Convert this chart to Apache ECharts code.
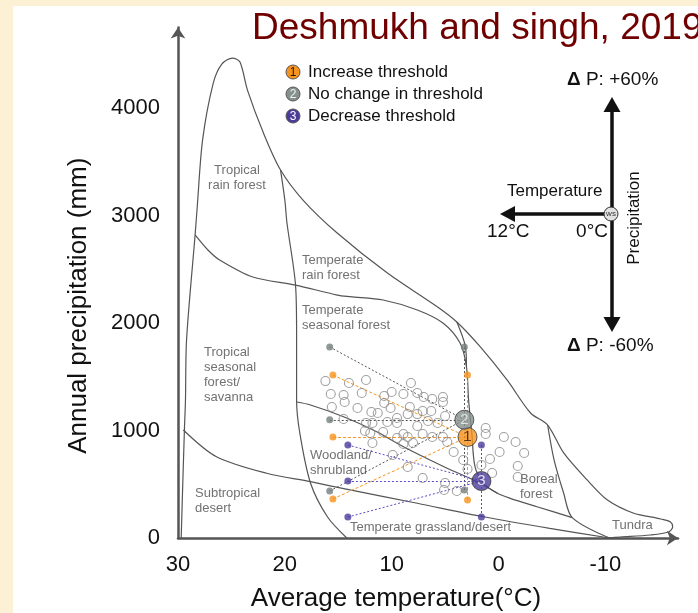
<!DOCTYPE html>
<html>
<head>
<meta charset="utf-8">
<script src="https://cdn.jsdelivr.net/npm/echarts@6/dist/echarts.min.js"></script>
<style>
  html, body { margin: 0; padding: 0; background: #fcf1d4; }
  #panel { position: absolute; left: 13px; top: 6px; width: 685px; height: 607px; background: #fff; }
  #chart { position: absolute; left: 0; top: 0; width: 698px; height: 613px; }
</style>
</head>
<body>
<div id="panel"></div>
<div id="chart"></div>
<script>
// axis ticks
const xTicks = [30, 20, 10, 0, -10];
const yTicks = [0, 1000, 2000, 3000, 4000];

// biome boundaries, [temperature °C, precipitation mm]
const outerEnvelope = [[29.7,0],[29.6,350],[29.4,1005],[29.3,1284],[29.2,1842],[28.4,2819],[28.2,3079],[27.7,3702],[26.7,4232],[25.9,4409],[24.9,4465],[24.2,4428],[23.5,4167],[22.0,3767],[20.4,3423],[18.3,3144],[15.1,2837],[10.4,2465],[5.7,2149],[3.9,2009],[1.7,1777],[-0.8,1470],[-3.0,1163],[-4.6,1051],[-6.1,791],[-8.3,540],[-10.2,353],[-12.6,233],[-15.2,177],[-16.1,149],[-16.3,102],[-15.9,56],[-14.2,28],[-11.4,9],[-10.2,0]];
const tropicalTemperateDivide = [[20.4,3423],[20.0,3144],[19.8,2930],[19.0,2353],[18.9,1907],[18.9,1284],[18.6,977],[17.6,512],[16.0,195],[14.2,0]];
const rainForestEdge = [[28.4,2819],[27.2,2679],[26.1,2586],[23.0,2428],[19.0,2353],[15.1,2260],[13.9,2245],[10.8,2214],[7.6,2121],[5.2,2000],[3.6,1814],[3.0,1593],[2.8,1284],[2.5,974],[2.2,663],[1.4,509],[0.1,416],[-1.1,369],[-3.6,291],[-6.9,190]];
const borealNotch = [[3.9,2009],[3.1,1780],[3.0,1593]];
const desertEdge = [[29.5,1005],[26.4,756],[21.7,602],[17.6,524],[13.9,447],[7.6,323],[1.4,198],[-4.8,90],[-10.4,0]];
const woodlandEdge = [[18.9,1265],[17.6,1237],[14.5,1128],[11.4,989],[8.9,849],[5.1,663],[2.0,524],[0.1,416]];
const tundraEdge = [[-4.6,1051],[-5.2,726],[-6.1,416],[-6.9,190],[-10.4,0]];

// study sites (open circles)
const sites = [
  [16.2,1460],[14.0,1442],[12.4,1470],[8.2,1442],
  [15.7,1340],[14.5,1330],[14.4,1265],[12.8,1349],[10.7,1321],[10.0,1358],[8.9,1340],[7.6,1349],
  [15.6,1219],[13.2,1209],[10.7,1256],[10.1,1209],[8.3,1219],[11.9,1172],[11.3,1163],[8.5,1153],[7.6,1153],
  [14.5,1107],[12.4,1070],[11.8,1070],[10.4,1079],[9.5,1116],[9.5,1070],[7.6,1042],
  [12.5,995],[12.0,977],[10.8,986],[8.9,967],[9.5,930],[8.5,940],[11.8,884],[8.9,874],[8.0,884],
  [7.0,1312],[6.2,1293],[5.2,1312],[5.2,1265],[7.1,1181],[6.3,1181],[6.6,1088],[5.7,1070],[7.1,967],[5.2,940],[4.8,893],[5.0,1135],
  [1.2,1023],[1.2,967],[-0.5,940],[-1.6,893],[-0.1,800],[-2.4,791],[0.8,735],[1.6,679],[0.6,605],[-1.8,670],[-1.8,567],
  [4.2,800],[3.3,726],[2.9,642],
  [7.1,558],[5.0,512],[5.1,447],[3.9,437],
  [9.9,772],[8.5,660],[6.2,940]
];

// threshold shifts: centre and the five shifted climates
const incCenter = [2.9, 940];
const incSources = [[15.5,1516],[15.5,940],[15.5,363],[2.9,1516],[2.9,353]];
const sameCenter = [3.2, 1100];
const sameSources = [[15.8,1777],[15.8,1100],[15.8,437],[3.2,1777],[3.2,447]];
const decCenter = [1.6, 530];
const decSources = [[14.1,865],[14.1,530],[14.1,195],[1.6,865],[1.6,195]];

const legendNames = ['Increase threshold', 'No change in threshold', 'Decrease threshold'];
const groupNums = ['1', '2', '3'];

const FONT = "'Liberation Sans', Arial, sans-serif";
const colOrange = '#f7941d', colGray = '#86908d', colPurple = '#4b3b9a';
const groupColors = [colOrange, colGray, colPurple];
const numColors = ['#2a1a05', '#f2f2f2', '#ffffff'];

const chart = echarts.init(document.getElementById('chart'), null, { renderer: 'canvas' });

const curve = (data) => ({
  type: 'line', data: data, showSymbol: false, smooth: 0.3, silent: true, z: 1,
  lineStyle: { color: '#555', width: 1.2 }
});

const links = (center, sources, color, dash) => ({
  type: 'lines', coordinateSystem: 'cartesian2d', silent: true, z: 2,
  data: sources.map(s => ({ coords: [s, center] })),
  lineStyle: { color: color, width: 1, type: dash, opacity: 1 }
});

const dots = (data, color) => ({
  type: 'scatter', data: data, symbolSize: 7, z: 4, silent: true,
  itemStyle: { color: color }
});

const bigMark = (center, i) => ({
  type: 'scatter', data: [center], symbolSize: 19, z: 5, silent: true,
  itemStyle: { color: groupColors[i], borderColor: '#3a3a3a', borderWidth: 1 },
  label: { show: true, position: 'inside', formatter: groupNums[i], color: numColors[i], fontSize: 15, fontFamily: FONT }
});

const biomeText = (text, x, top, align) => ({
  type: 'text', x: x, y: top, silent: true,
  style: { text: text, fill: '#727272', fontSize: 13, fontFamily: FONT, lineHeight: 15, align: align || 'left', verticalAlign: 'top' }
});

const graphics = [
  { type: 'text', x: 252, y: 29, style: { text: 'Deshmukh and singh, 2019', fill: '#700000', fontSize: 37, fontFamily: FONT, verticalAlign: 'middle' } },

  biomeText('Tropical\nrain forest', 237, 162.5, 'center'),
  biomeText('Temperate\nrain forest', 302, 252.5),
  biomeText('Temperate\nseasonal forest', 302, 302.5),
  biomeText('Tropical\nseasonal\nforest/\nsavanna', 204, 344.5),
  biomeText('Subtropical\ndesert', 195, 485.5),
  biomeText('Woodland/\nshrubland', 310, 447.5),
  biomeText('Boreal\nforest', 520, 472),
  biomeText('Tundra', 612, 517.5),
  biomeText('Temperate grassland/desert', 350, 519.5),

  // change schematic
  { type: 'line', shape: { x1: 612, y1: 110, x2: 612, y2: 319 }, style: { stroke: '#111', lineWidth: 3.5 } },
  { type: 'polygon', shape: { points: [[612, 97], [603.5, 112], [620.5, 112]] }, style: { fill: '#111' } },
  { type: 'polygon', shape: { points: [[612, 332], [603.5, 317], [620.5, 317]] }, style: { fill: '#111' } },
  { type: 'line', shape: { x1: 513, y1: 214, x2: 605, y2: 214 }, style: { stroke: '#111', lineWidth: 3.5 } },
  { type: 'polygon', shape: { points: [[500, 214], [515, 206], [515, 222]] }, style: { fill: '#111' } },
  { type: 'circle', shape: { cx: 611, cy: 214, r: 7 }, style: { fill: '#e2e2e2', stroke: '#333', lineWidth: 1 } },
  { type: 'text', x: 611, y: 214, style: { text: 'ws', fill: '#333', fontSize: 8, fontFamily: FONT, align: 'center', verticalAlign: 'middle' } },
  { type: 'text', x: 567, y: 80, style: { text: '{d|Δ} P: +60%', fill: '#111', fontSize: 19, fontFamily: FONT, verticalAlign: 'middle', rich: { d: { fontWeight: 'bold', fontSize: 19, fontFamily: FONT, fill: '#111' } } } },
  { type: 'text', x: 567, y: 346, style: { text: '{d|Δ} P: -60%', fill: '#111', fontSize: 19, fontFamily: FONT, verticalAlign: 'middle', rich: { d: { fontWeight: 'bold', fontSize: 19, fontFamily: FONT, fill: '#111' } } } },
  { type: 'text', x: 507, y: 191, style: { text: 'Temperature', fill: '#111', fontSize: 17, fontFamily: FONT, verticalAlign: 'middle' } },
  { type: 'text', x: 487, y: 232, style: { text: '12°C', fill: '#111', fontSize: 19, fontFamily: FONT, verticalAlign: 'middle' } },
  { type: 'text', x: 608, y: 232, style: { text: '0°C', fill: '#111', fontSize: 19, fontFamily: FONT, align: 'right', verticalAlign: 'middle' } },
  { type: 'text', x: 634, y: 218, rotation: Math.PI / 2, style: { text: 'Precipitation', fill: '#111', fontSize: 17, fontFamily: FONT, align: 'center', verticalAlign: 'middle' } }
];

legendNames.forEach((name, i) => {
  const y = 72 + i * 22;
  graphics.push({ type: 'circle', shape: { cx: 293, cy: y, r: 7 }, style: { fill: groupColors[i], stroke: '#555', lineWidth: 1 } });
  graphics.push({ type: 'text', x: 293, y: y + 0.5, style: { text: groupNums[i], fill: numColors[i], fontSize: 12, fontFamily: FONT, align: 'center', verticalAlign: 'middle' } });
  graphics.push({ type: 'text', x: 308, y: y, style: { text: name, fill: '#111', fontSize: 17, fontFamily: FONT, verticalAlign: 'middle' } });
});

const option = {
  animation: false,
  grid: { left: 178, right: 20, top: 27.4, bottom: 75, outerBoundsMode: 'none' },
  xAxis: {
    type: 'value', inverse: true, min: -16.8, max: 30,
    name: 'Average temperature(°C)', nameLocation: 'middle', nameGap: 48,
    nameTextStyle: { fontSize: 26, color: '#111', fontFamily: FONT, padding: [0, 64, 0, 0] },
    axisLine: { show: true, onZero: false, lineStyle: { color: '#555', width: 2.5 }, symbol: ['none', 'arrow'], symbolSize: [11, 11] },
    axisTick: { show: false },
    splitLine: { show: false },
    axisLabel: { customValues: xTicks, formatter: v => String(v), fontSize: 22, color: '#111', fontFamily: FONT, margin: 16 }
  },
  yAxis: {
    type: 'value', min: 0, max: 4750,
    name: 'Annual precipitation (mm)', nameLocation: 'middle', nameGap: 86,
    nameTextStyle: { fontSize: 26, color: '#111', fontFamily: FONT, padding: [0, 46, 0, 0] },
    axisLine: { show: true, onZero: false, lineStyle: { color: '#555', width: 2.5 }, symbol: ['none', 'arrow'], symbolSize: [11, 11] },
    axisTick: { show: false },
    splitLine: { show: false },
    axisLabel: { customValues: yTicks, formatter: v => String(v), fontSize: 22, color: '#111', fontFamily: FONT, margin: 18 }
  },
  graphic: graphics,
  series: [
    curve(outerEnvelope),
    curve(tropicalTemperateDivide),
    curve(rainForestEdge),
    curve(borealNotch),
    curve(desertEdge),
    curve(woodlandEdge),
    curve(tundraEdge),
    links(incCenter, incSources, colOrange, [3, 2]),
    links(sameCenter, sameSources, '#555', [2, 2]),
    links(decCenter, decSources, '#5a4bc0', [2, 2]),
    {
      type: 'scatter', data: sites, symbolSize: 9, z: 3, silent: true,
      itemStyle: { color: 'rgba(255,255,255,0)', borderColor: '#8a8a8a', borderWidth: 1.1 }
    },
    dots(incSources, colOrange),
    dots(sameSources, '#74807d'),
    dots(decSources, colPurple),
    bigMark(incCenter, 0),
    bigMark(sameCenter, 1),
    bigMark(decCenter, 2)
  ]
};

chart.setOption(option);
</script>
</body>
</html>
